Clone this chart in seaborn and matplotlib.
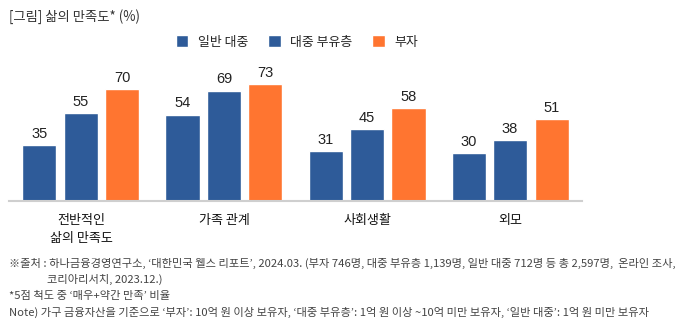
import matplotlib
matplotlib.use("Agg")
import matplotlib.pyplot as plt
import seaborn as sns
import pandas as pd

categories = ["전반적인\n삶의 만족도", "가족 관계", "사회생활", "외모"]
series_names = ["일반 대중", "대중 부유층", "부자"]
general = [35, 54, 31, 30]
affluent = [55, 69, 45, 38]
rich = [70, 73, 58, 51]

title = "[그림] 삶의 만족도* (%)"
notes = [
    "※출처 : 하나금융경영연구소, ‘대한민국 웰스 리포트’, 2024.03. (부자 746명, 대중 부유층 1,139명, 일반 대중 712명 등 총 2,597명,  온라인 조사,",
    "코리아리서치, 2023.12.)",
    "*5점 척도 중 ‘매우+약간 만족’ 비율",
    "Note) 가구 금융자산을 기준으로 ‘부자’: 10억 원 이상 보유자, ‘대중 부유층’: 1억 원 이상 ~10억 미만 보유자, ‘일반 대중’: 1억 원 미만 보유자",
]

rows = []
for name, vals in zip(series_names, [general, affluent, rich]):
    for c, v in zip(categories, vals):
        rows.append({"category": c, "group": name, "value": v})
df = pd.DataFrame(rows)

sns.set_theme(style="white")
plt.rcParams["font.family"] = ["Noto Sans CJK KR", "DejaVu Sans"]

W, H = 685, 333
fig = plt.figure(figsize=(W / 100, H / 100), dpi=100)

def fx(px):
    return px / W

def fy(py):
    return 1 - py / H

ax_left, ax_right, ax_bottom, ax_top = 9, 582, 201, 60
ax = fig.add_axes([fx(ax_left), fy(ax_bottom), fx(ax_right - ax_left), (ax_bottom - ax_top) / H])

palette = {"일반 대중": "#2E5B99", "대중 부유층": "#2E5B99", "부자": "#FF7530"}
sns.barplot(data=df, x="category", y="value", hue="group", hue_order=series_names,
            order=categories, palette=palette, width=0.87, gap=0.18, ax=ax,
            saturation=1, legend=True)

ax.set_ylim(0, (ax_bottom - ax_top) / 1.6)
ax.set_xlim(-0.503, 3.503)
for cont in ax.containers:
    ax.bar_label(cont, padding=3, fontsize=10.5, color="#222222",
                 family=["Liberation Sans", "DejaVu Sans"])

for s in ["top", "right", "left"]:
    ax.spines[s].set_visible(False)
ax.spines["bottom"].set_color("#CFCFCF")
ax.spines["bottom"].set_linewidth(1.5)
ax.set_yticks([])
ax.set_xlabel("")
ax.set_ylabel("")
ax.tick_params(axis="x", length=0, pad=9, labelsize=9.4, colors="#111111")
for lab in ax.get_xticklabels():
    lab.set_linespacing(1.5)

handles, labels = ax.get_legend_handles_labels()
ax.legend(handles, labels, loc="center", bbox_to_anchor=(fx(297), fy(42)),
          bbox_transform=fig.transFigure, ncol=3, frameon=False,
          handlelength=1.0, handleheight=1.0, handletextpad=0.75,
          columnspacing=1.5, fontsize=9.3, borderaxespad=0)

fig.text(fx(9), fy(17), title, fontsize=9.6, color="#333333", va="center", ha="left")

note_pos = [(9, 263), (47, 279), (9, 296), (9, 312)]
for (x, y), t in zip(note_pos, notes):
    fig.text(fx(x), fy(y), t, fontsize=8.1, color="#444444", va="center", ha="left")

fig.savefig("out.png", dpi=100)
